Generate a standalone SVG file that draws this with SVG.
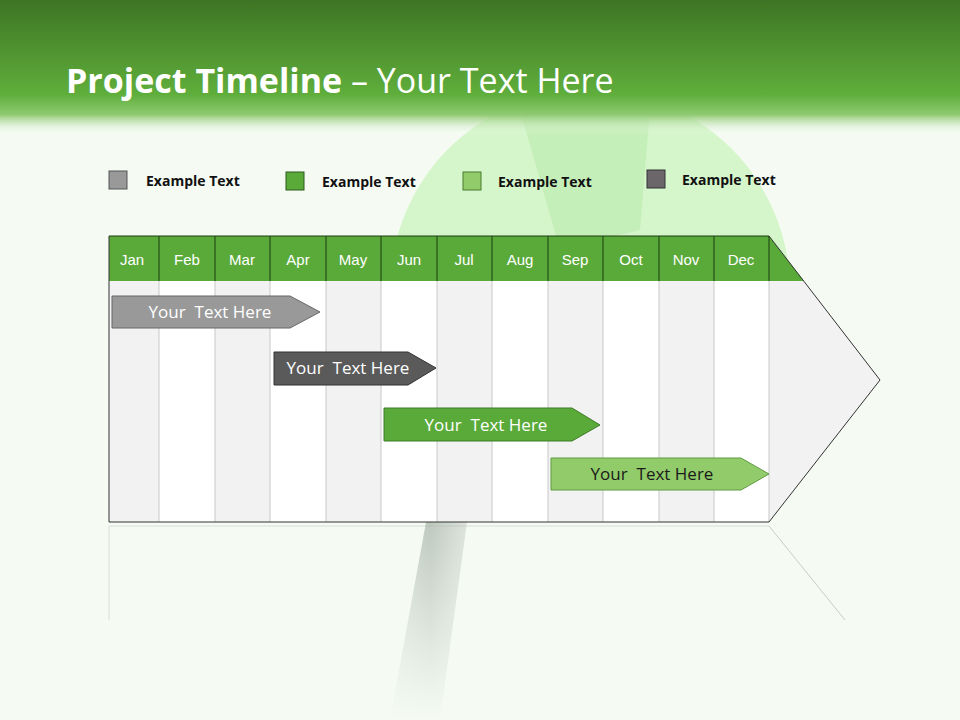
<svg xmlns="http://www.w3.org/2000/svg" width="960" height="720" viewBox="0 0 960 720">
<defs>
<linearGradient id="hdr" x1="0" y1="0" x2="0" y2="1">
<stop offset="0" stop-color="#3e7424"/><stop offset="0.7" stop-color="#5fae3b"/><stop offset="0.85" stop-color="#8fca72"/><stop offset="1" stop-color="#f5fbf3" stop-opacity="0"/>
</linearGradient>
<linearGradient id="handle" x1="0" y1="0" x2="1" y2="0">
<stop offset="0" stop-color="#c8d2c8"/><stop offset="0.5" stop-color="#a9b5a9"/><stop offset="1" stop-color="#d6ddd6"/>
</linearGradient>
<linearGradient id="fade" x1="0" y1="0" x2="0" y2="1">
<stop offset="0" stop-color="#f5fbf3" stop-opacity="0"/><stop offset="1" stop-color="#f5fbf3" stop-opacity="1"/>
</linearGradient>
<style>
.mon{font-family:"Liberation Sans",Arial,sans-serif;font-size:15px;fill:#fff;text-anchor:middle}
.leg{font-family:"Open Sans","Liberation Sans",sans-serif;font-size:14px;font-weight:bold;fill:#111}
.bar{font-family:"Open Sans","Liberation Sans",sans-serif;font-size:17px;fill:#fff;text-anchor:middle;white-space:pre}
.g{fill:#f2f2f2}.w{fill:#fff}
.sep{stroke:#c8c8c8;stroke-width:1}
.hs{stroke:#1d3d10;stroke-width:1}
</style>
</defs>
<rect width="960" height="720" fill="#f5fbf3"/>
<g id="decor">
<path d="M430 500 L470 500 L440 720 L390 720 Z" fill="url(#handle)" opacity="0.8"/>
<circle cx="590" cy="290" r="200" fill="#cdf5c0" opacity="0.8"/>
<path d="M520 110 L650 110 L640 230 L560 250 Z" fill="#b5e8a6" opacity="0.5"/>
<rect x="380" y="500" width="200" height="220" fill="url(#fade)"/>
</g>
<rect width="960" height="135" fill="url(#hdr)"/>
<text x="66" y="93" font-family="Open Sans,Liberation Sans,sans-serif" font-size="34" fill="#fff"><tspan font-weight="bold">Project Timeline</tspan> – Your Text Here</text>
<g id="legend">
<rect x="109" y="171" width="18" height="18" fill="#999" stroke="#555"/><text class="leg" x="146" y="186">Example Text</text>
<rect x="286" y="172" width="18" height="18" fill="#5aaa3a" stroke="#2d5a1c"/><text class="leg" x="322" y="187">Example Text</text>
<rect x="463" y="172" width="18" height="18" fill="#92cc6a" stroke="#4a7a30"/><text class="leg" x="498" y="187">Example Text</text>
<rect x="647" y="170" width="18" height="18" fill="#6a666a" stroke="#333"/><text class="leg" x="682" y="185">Example Text</text>
</g>
<g id="table">
<path d="M769 236 L880 380 L769 522 Z" fill="#f2f2f2"/>
<rect class="g" x="109" y="281" width="50" height="241"/><rect class="w" x="159" y="281" width="56" height="241"/>
<rect class="g" x="215" y="281" width="55" height="241"/><rect class="w" x="270" y="281" width="56" height="241"/>
<rect class="g" x="326" y="281" width="55" height="241"/><rect class="w" x="381" y="281" width="56" height="241"/>
<rect class="g" x="437" y="281" width="55" height="241"/><rect class="w" x="492" y="281" width="56" height="241"/>
<rect class="g" x="548" y="281" width="55" height="241"/><rect class="w" x="603" y="281" width="56" height="241"/>
<rect class="g" x="659" y="281" width="55" height="241"/><rect class="w" x="714" y="281" width="55" height="241"/>
<g class="sep"><line x1="159" y1="281" x2="159" y2="522"/><line x1="215" y1="281" x2="215" y2="522"/><line x1="270" y1="281" x2="270" y2="522"/><line x1="326" y1="281" x2="326" y2="522"/><line x1="381" y1="281" x2="381" y2="522"/><line x1="437" y1="281" x2="437" y2="522"/><line x1="492" y1="281" x2="492" y2="522"/><line x1="548" y1="281" x2="548" y2="522"/><line x1="603" y1="281" x2="603" y2="522"/><line x1="659" y1="281" x2="659" y2="522"/><line x1="714" y1="281" x2="714" y2="522"/><line x1="769" y1="281" x2="769" y2="522"/></g>
<path d="M109 236 L769 236 L804 281 L109 281 Z" fill="#5aaa3a"/>
<g class="hs"><line x1="109" y1="236" x2="769" y2="236"/><line x1="159" y1="236" x2="159" y2="281"/><line x1="215" y1="236" x2="215" y2="281"/><line x1="270" y1="236" x2="270" y2="281"/><line x1="326" y1="236" x2="326" y2="281"/><line x1="381" y1="236" x2="381" y2="281"/><line x1="437" y1="236" x2="437" y2="281"/><line x1="492" y1="236" x2="492" y2="281"/><line x1="548" y1="236" x2="548" y2="281"/><line x1="603" y1="236" x2="603" y2="281"/><line x1="659" y1="236" x2="659" y2="281"/><line x1="714" y1="236" x2="714" y2="281"/><line x1="769" y1="236" x2="769" y2="281"/></g>
<path d="M109 236 L109 522 L769 522 L880 380 L769 236" fill="none" stroke="#333" stroke-width="1"/>
<text class="mon" x="132" y="265">Jan</text><text class="mon" x="187" y="265">Feb</text><text class="mon" x="242" y="265">Mar</text><text class="mon" x="298" y="265">Apr</text><text class="mon" x="353" y="265">May</text><text class="mon" x="409" y="265">Jun</text><text class="mon" x="464" y="265">Jul</text><text class="mon" x="520" y="265">Aug</text><text class="mon" x="575" y="265">Sep</text><text class="mon" x="631" y="265">Oct</text><text class="mon" x="686" y="265">Nov</text><text class="mon" x="741" y="265">Dec</text>
</g>
<g id="reflection" opacity="0.35">
<line x1="109" y1="526" x2="109" y2="620" stroke="#aaa"/>
<line x1="109" y1="526" x2="769" y2="526" stroke="#aaa"/>
<line x1="769" y1="526" x2="845" y2="620" stroke="#777"/>
</g>
<g id="bar1"><path d="M112 296 L290 296 L320 312 L290 328 L112 328 Z" fill="#999" stroke="#666"/><text class="bar" x="210" y="318">Your  Text Here</text></g>
<g id="bar2"><path d="M274 352 L408 352 L436 368 L408 385 L274 385 Z" fill="#5a5a5a" stroke="#333"/><text class="bar" x="348" y="374">Your  Text Here</text></g>
<g id="bar3"><path d="M384 408 L572 408 L600 425 L572 441 L384 441 Z" fill="#5aaa3a" stroke="#3d7a26"/><text class="bar" x="486" y="431">Your  Text Here</text></g>
<g id="bar4"><path d="M551 458 L741 458 L769 474 L741 490 L551 490 Z" fill="#92cc6a" stroke="#5f9a40"/><text class="bar" x="652" y="480" style="fill:#1a1a1a">Your  Text Here</text></g>
</svg>
